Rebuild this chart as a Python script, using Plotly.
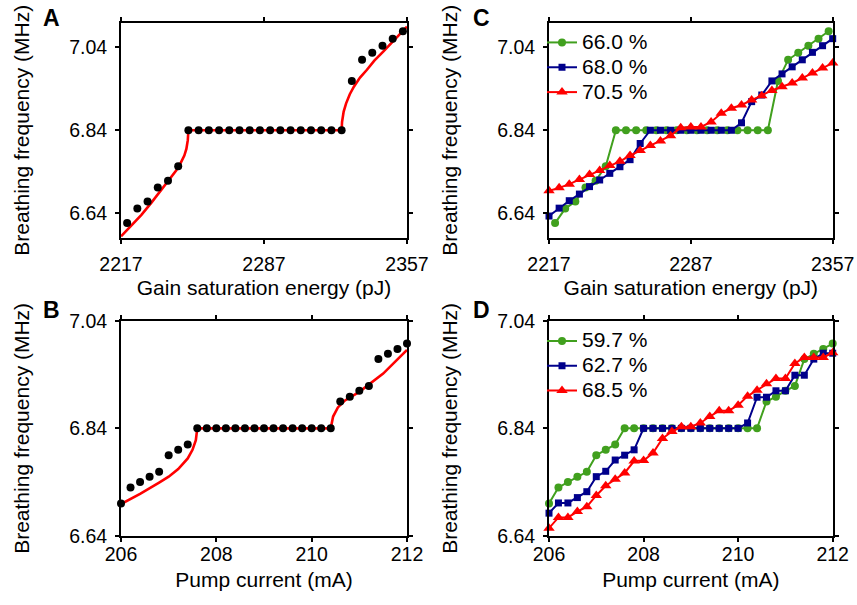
import plotly.graph_objects as go

# ---------------- Data ----------------
# Panel A: gain saturation energy sweep (measured dots + simulated curve)
a_x = [2220, 2225, 2230, 2235, 2240, 2245, 2250, 2255, 2260, 2265, 2270, 2275, 2280, 2285,
       2290, 2295, 2300, 2305, 2310, 2315, 2320, 2325, 2330, 2335, 2340, 2345, 2350, 2355]
a_y = [6.616, 6.651, 6.668, 6.702, 6.718, 6.753] + [6.84] * 16 + \
      [6.959, 7.010, 7.027, 7.044, 7.061, 7.079]
a_fit_x = [2217, 2222, 2227, 2232, 2237, 2241, 2244, 2246, 2248, 2249, 2249.7, 2250,
           2325, 2325.2, 2326, 2327.2, 2329, 2331, 2334, 2337.4, 2341, 2345.6, 2352, 2357]
a_fit_y = [6.584, 6.611, 6.636, 6.666, 6.698, 6.725, 6.743, 6.759, 6.779, 6.795, 6.816, 6.84,
           6.84, 6.86, 6.885, 6.905, 6.927, 6.945, 6.967, 6.986, 7.008, 7.031, 7.063, 7.090]

# Panel B: pump current sweep
b_x = [206.0, 206.2, 206.4, 206.6, 206.8, 207.0, 207.2, 207.4, 207.6, 207.8, 208.0, 208.2,
       208.4, 208.6, 208.8, 209.0, 209.2, 209.4, 209.6, 209.8, 210.0, 210.2, 210.4, 210.6,
       210.8, 211.0, 211.2, 211.4, 211.6, 211.8, 212.0]
b_y = [6.700, 6.730, 6.740, 6.750, 6.759, 6.790, 6.800, 6.810] + [6.84] * 15 + \
      [6.890, 6.899, 6.910, 6.919, 6.969, 6.979, 6.988, 6.998]
b_fit_x = [206.0, 206.4, 206.8, 207.0, 207.2, 207.4, 207.5, 207.57, 207.6,
           210.4, 210.45, 210.55, 210.7, 211.0, 211.5, 212.0]
b_fit_y = [6.699, 6.718, 6.739, 6.750, 6.764, 6.784, 6.800, 6.818, 6.84,
           6.84, 6.862, 6.879, 6.892, 6.908, 6.942, 6.986]

# Panel C: three gain settings
c_x = [2217 + 5 * i for i in range(29)]
c_labels = ["66.0 %", "68.0 %", "70.5 %"]
c_green_x = a_x
c_green_y = a_y
c_blue_y = [6.633, 6.652, 6.670, 6.686, 6.704, 6.720, 6.736, 6.752, 6.769, 6.808] + [6.84] * 9 + \
           [6.858, 6.909, 6.925, 6.959, 6.976, 6.993, 7.010, 7.028, 7.044, 7.061]
c_red_y = [6.694, 6.701, 6.710, 6.721, 6.733, 6.743, 6.755, 6.765, 6.779, 6.791, 6.803, 6.814,
           6.827, 6.846, 6.848, 6.848, 6.860, 6.881, 6.893, 6.901, 6.913, 6.923, 6.936, 6.945,
           6.954, 6.966, 6.978, 6.990, 7.002]

# Panel D: three gain settings
d_x = b_x
d_labels = ["59.7 %", "62.7 %", "68.5 %"]
d_green_y = b_y
d_blue_y = [6.682, 6.701, 6.701, 6.711, 6.722, 6.750, 6.760, 6.781, 6.790, 6.800] + [6.84] * 11 + \
           [6.850, 6.898, 6.898, 6.910, 6.910, 6.939, 6.939, 6.969, 6.980, 6.980]
d_red_y = [6.654, 6.674, 6.674, 6.685, 6.694, 6.715, 6.733, 6.745, 6.757, 6.779, 6.780, 6.794,
           6.821, 6.834, 6.843, 6.843, 6.850, 6.862, 6.873, 6.873, 6.883, 6.900, 6.911, 6.923,
           6.933, 6.933, 6.961, 6.972, 6.972, 6.972, 6.981]

y_ticks = [6.64, 6.84, 7.04]
y_ticktext = ["6.64", "6.84", "7.04"]
e_ticks = [2217, 2287, 2357]
i_ticks = [206, 208, 210, 212]

# ---------------- Styles ----------------
W, H = 857, 605
FONT = "Liberation Sans, Arial, sans-serif"
FS_TICK = 19.5
FS_TITLE = 21
FS_LEG_TEXT = 21
FS_LEG_ROW = 16.8
GREEN = "#41a01e"
BLUE = "#00008b"
RED = "#ff0000"

fig = go.Figure()

# A
fig.add_trace(go.Scatter(x=a_fit_x, y=a_fit_y, mode="lines", line=dict(color=RED, width=2.6),
                         xaxis="x", yaxis="y", showlegend=False, cliponaxis=False))
fig.add_trace(go.Scatter(x=a_x, y=a_y, mode="markers", marker=dict(color="black", size=8),
                         xaxis="x", yaxis="y", showlegend=False, cliponaxis=False))
# B
fig.add_trace(go.Scatter(x=b_fit_x, y=b_fit_y, mode="lines", line=dict(color=RED, width=2.6),
                         xaxis="x2", yaxis="y2", showlegend=False, cliponaxis=False))
fig.add_trace(go.Scatter(x=b_x, y=b_y, mode="markers", marker=dict(color="black", size=8),
                         xaxis="x2", yaxis="y2", showlegend=False, cliponaxis=False))


def leg_name(s):
    return "<span style='font-size:%dpx'>%s</span>" % (FS_LEG_TEXT, s)


def series(x, y, name, color, symbol, size, xa, ya, legend):
    return go.Scatter(x=x, y=y, name=leg_name(name), mode="lines+markers",
                      line=dict(color=color, width=2),
                      marker=dict(color=color, symbol=symbol, size=size),
                      xaxis=xa, yaxis=ya, legend=legend, cliponaxis=False)


# C
fig.add_trace(series(c_green_x, c_green_y, c_labels[0], GREEN, "circle", 8, "x3", "y3", "legend"))
fig.add_trace(series(c_x, c_blue_y, c_labels[1], BLUE, "square", 7, "x3", "y3", "legend"))
fig.add_trace(series(c_x, c_red_y, c_labels[2], RED, "triangle-up", 10, "x3", "y3", "legend"))
# D
fig.add_trace(series(d_x, d_green_y, d_labels[0], GREEN, "circle", 8, "x4", "y4", "legend2"))
fig.add_trace(series(d_x, d_blue_y, d_labels[1], BLUE, "square", 7, "x4", "y4", "legend2"))
fig.add_trace(series(d_x, d_red_y, d_labels[2], RED, "triangle-up", 10, "x4", "y4", "legend2"))


def px_x(p):
    return p / W


def px_y(p):
    return 1 - p / H


def axis_common(standoff):
    return dict(showline=True, linecolor="black", linewidth=2, mirror="ticks",
                ticks="outside", ticklen=4, tickwidth=2, tickcolor="black",
                showgrid=False, zeroline=False, automargin=False,
                ticklabelstandoff=standoff,
                tickfont=dict(family=FONT, size=FS_TICK, color="black"))


top_dom = [px_y(238), px_y(22.5)]
bot_dom = [px_y(535.7), px_y(321)]
left_dom = [px_x(121), px_x(407)]
right_dom = [px_x(549), px_x(832.7)]

tf = dict(family=FONT, size=FS_TITLE, color="black")
xt_e = dict(text="Gain saturation energy (pJ)", font=tf, standoff=6)
xt_i = dict(text="Pump current (mA)", font=tf, standoff=8)
yt = dict(text="Breathing frequency (MHz)", font=tf, standoff=34)

leg = dict(xanchor="left", yanchor="top", bgcolor="rgba(0,0,0,0)",
           font=dict(family=FONT, size=FS_LEG_ROW, color="black"), itemwidth=30, tracegroupgap=0)

layout = dict(
    template="none",
    width=W, height=H, margin=dict(l=0, r=0, t=0, b=0, pad=0),
    paper_bgcolor="white", plot_bgcolor="white",
    font=dict(family=FONT, size=FS_TICK, color="black"),
    xaxis=dict(domain=left_dom, anchor="y", range=[2217, 2357], tickvals=e_ticks, title=xt_e, **axis_common(4)),
    yaxis=dict(domain=top_dom, anchor="x", range=[6.58, 7.10], tickvals=y_ticks, ticktext=y_ticktext, title=yt, **axis_common(4)),
    xaxis2=dict(domain=left_dom, anchor="y2", range=[206, 212], tickvals=i_ticks, title=xt_i, **axis_common(-4)),
    yaxis2=dict(domain=bot_dom, anchor="x2", range=[6.64, 7.04], tickvals=y_ticks, ticktext=y_ticktext, title=yt, **axis_common(4)),
    xaxis3=dict(domain=right_dom, anchor="y3", range=[2217, 2357], tickvals=e_ticks, title=xt_e, **axis_common(4)),
    yaxis3=dict(domain=top_dom, anchor="x3", range=[6.58, 7.10], tickvals=y_ticks, ticktext=y_ticktext, title=yt, **axis_common(4)),
    xaxis4=dict(domain=right_dom, anchor="y4", range=[206, 212], tickvals=i_ticks, title=xt_i, **axis_common(-4)),
    yaxis4=dict(domain=bot_dom, anchor="x4", range=[6.64, 7.04], tickvals=y_ticks, ticktext=y_ticktext, title=yt, **axis_common(4)),
    legend=dict(x=px_x(542), y=px_y(25), **leg),
    legend2=dict(x=px_x(542), y=px_y(323.5), **leg),
)

letters = [("A", 51.5, 18.5), ("B", 51.5, 310), ("C", 481, 18.5), ("D", 481, 310)]
annotations = []
for t, lx, ly in letters:
    annotations.append(dict(text="<b>%s</b>" % t, x=px_x(lx), y=px_y(ly), xref="paper", yref="paper",
                            xanchor="center", yanchor="middle", showarrow=False,
                            font=dict(family=FONT, size=23, color="black")))
layout["annotations"] = annotations

fig.update_layout(**layout)
fig.write_html("out.html")
